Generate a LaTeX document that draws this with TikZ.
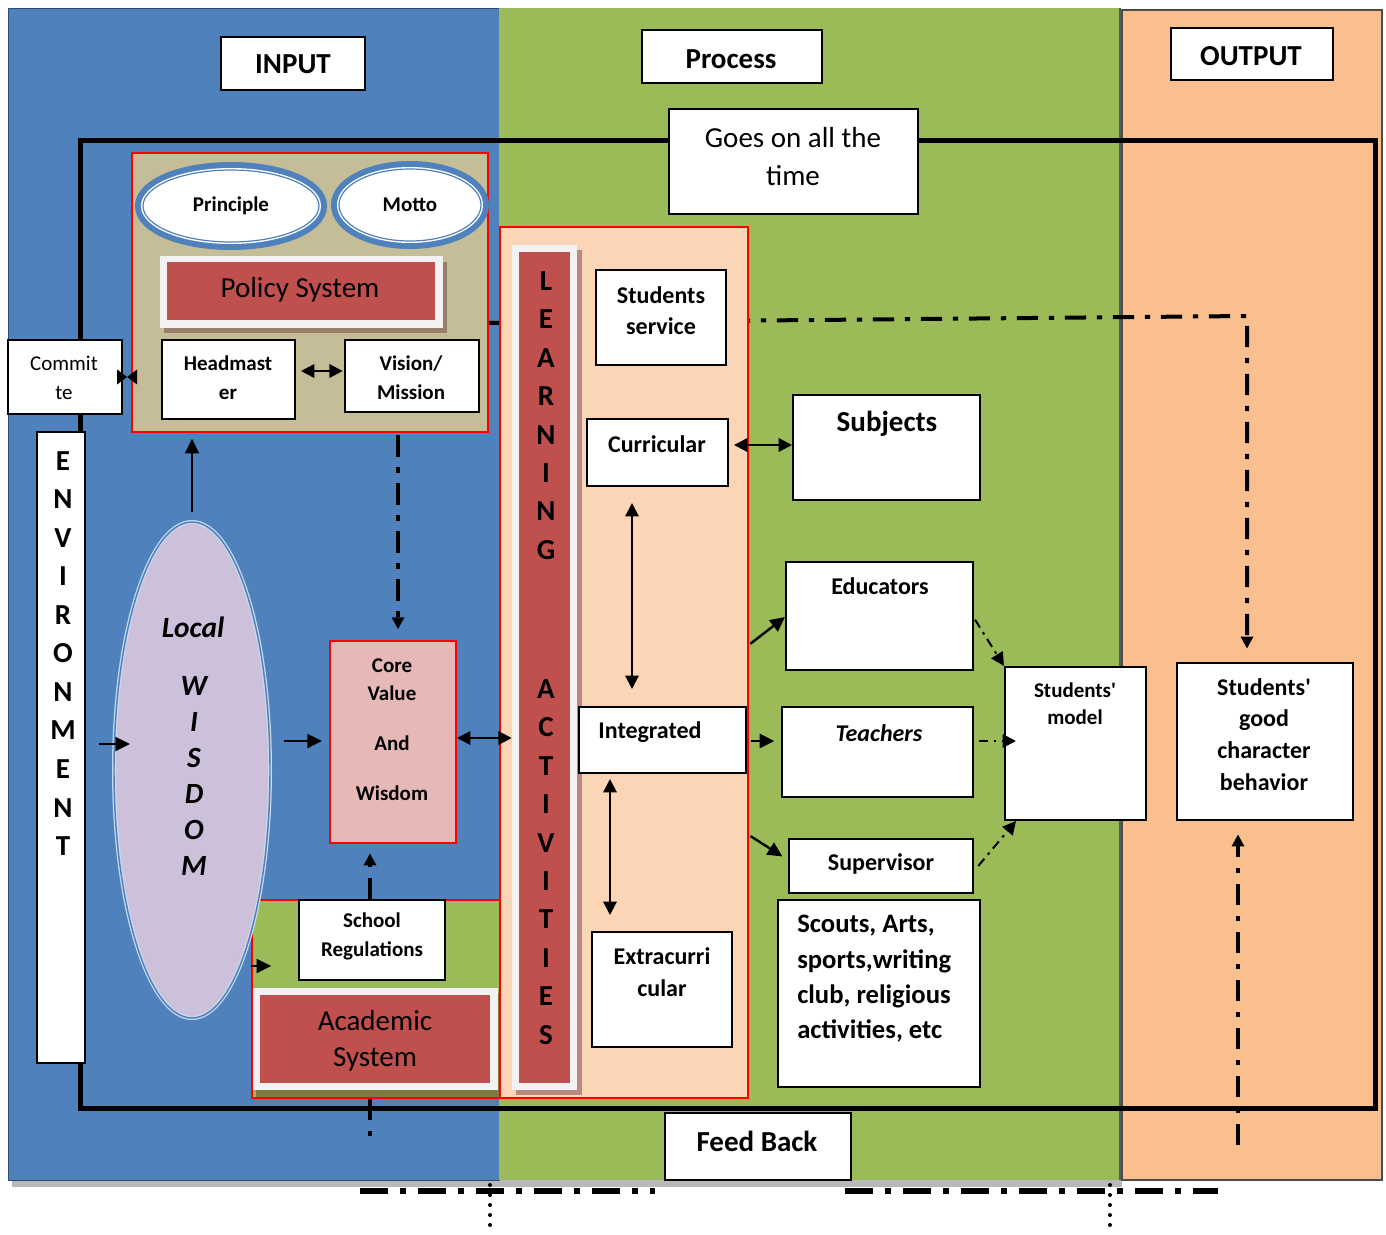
\documentclass[tikz,border=0pt]{standalone}
\usepackage{fontspec}
\setmainfont{Carlito}
\usetikzlibrary{arrows.meta,shapes.geometric,fit,calc}
\newcommand\pxu{0.75pt}
\definecolor{blueP}{HTML}{4F81BD}
\definecolor{greenP}{HTML}{9BBB59}
\definecolor{orangeP}{HTML}{F9BF8F}
\definecolor{tanP}{HTML}{C4BD97}
\definecolor{redP}{HTML}{C0504D}
\definecolor{frameP}{HTML}{F2F2F2}
\definecolor{peachP}{HTML}{FBD5B5}
\definecolor{coreP}{HTML}{E6B9B8}
\definecolor{lavP}{HTML}{CCC0DA}
\definecolor{pshadow}{HTML}{9A7E6C}
\definecolor{lshadow}{HTML}{B98B80}
\definecolor{ashadow}{HTML}{7F7A40}
\tikzset{
  box/.style={draw=black, line width=1.5pt, fill=white, inner sep=0pt},
  tB/.style 2 args={font=\fontsize{#1}{#2}\selectfont\bfseries, align=center, inner sep=0pt},
  tR/.style 2 args={font=\fontsize{#1}{#2}\selectfont, align=center, inner sep=0pt},
  tBI/.style 2 args={font=\fontsize{#1}{#2}\selectfont\bfseries\itshape, align=center, inner sep=0pt},
  arr/.style={line width=1.8pt, -{Triangle[length=11pt,width=10.5pt]}},
  darr/.style={line width=1.8pt, {Triangle[length=10pt,width=10pt]}-{Triangle[length=10pt,width=10pt]}},
  ddash/.style={line width=3pt, dash pattern=on 16pt off 8pt on 4pt off 8pt},
  ddarr/.style={ddash, -{Triangle[length=9pt,width=9pt]}},
  sdarr/.style={line width=1.5pt, dash pattern=on 7pt off 4pt on 2pt off 4pt, -{Triangle[length=10pt,width=10pt]}},
  bdash/.style={line width=4.5pt, dash pattern=on 21pt off 9pt on 4.5pt off 9pt},
  dotv/.style={line width=3pt, line cap=round, dash pattern=on 0pt off 7.5pt},
}
\begin{document}
\begin{tikzpicture}[x=0.75pt,y=-0.75pt]
\useasboundingbox (0,0) rectangle (1386,1235);

% ---------- panels ----------
\fill[gray!55] (12,1180) rectangle (1122,1187);
\filldraw[fill=blueP, draw=blueP!60!black, line width=0.6pt] (8,8) rectangle (499,1180);
\fill[greenP] (499,8) rectangle (1120,1180);
\draw[gray!70!black, line width=0.8pt] (1120,8) -- (1120,1180);
\filldraw[fill=orangeP, draw=black!70, line width=0.8pt] (1122,10) rectangle (1382,1180);

% ---------- big frame ----------
\draw[line width=3.75pt] (80,140) rectangle (1375,1108);

% ---------- bottom feedback lines ----------
\coordinate (b1) at (360,1191);
\coordinate (b2) at (655,1191);
\coordinate (b3) at (845,1191);
\coordinate (b4) at (1218,1191);
\draw[bdash] (b1) -- (b2);
\draw[bdash] (b3) -- (b4);
\coordinate (v1) at (490,1185);
\coordinate (v2) at (1110,1185);
\draw[dotv] (v1) -- ++(0,50);
\draw[dotv] (v2) -- ++(0,50);

% ---------- output box ----------
\node[box, fit={(1177,663)(1353,820)}] (gcb) {};
\node[tB={18}{23.8}] (gcbT) at (1264,734.5) {Students\textquotesingle\\good\\character\\behavior};

% ---------- policy area ----------
\node[fit={(132,153)(488,432)}, inner sep=0pt, fill=tanP, draw=red, line width=1.2pt] (pol) {};
\node[ellipse, minimum width=176*\pxu, minimum height=72*\pxu, inner sep=0pt, fill=white,
      draw=blueP, line width=0.9pt, preaction={draw=blueP, line width=12pt},
      preaction={draw=white, line width=3pt}, tB={15.75}{20}] (pr) at (231,206) {Principle};
\node[ellipse, minimum width=142*\pxu, minimum height=72*\pxu, inner sep=0pt, fill=white,
      draw=blueP, line width=0.9pt, preaction={draw=blueP, line width=12pt},
      preaction={draw=white, line width=3pt}, tB={15.75}{20}] (mo) at (410,205) {Motto};
\fill[pshadow] (164,262) rectangle (447,333);
\node[fit={(160,256)(443,328)}, inner sep=0pt, fill=frameP] (psf) {};
\node[fit={(167,262)(435,320)}, inner sep=0pt, fill=redP] (ps) {};
\node[tR={21.75}{26}] (psT) at (300,290) {Policy System};
\node[box, fit={(162,340)(295,419)}] (hm) {};
\node[tB={15.75}{21.75}] (hmT) at (228,377.5) {Headmast\\er};
\node[box, fit={(345,340)(479,412)}] (vm) {};
\node[tB={15.75}{21.75}] (vmT) at (411,377.5) {Vision/\\Mission};
\node[box, fit={(8,340)(122,414)}] (com) {};
\node[tR={15.75}{21.75}] (comT) at (64,377.5) {Commit\\te};

% ---------- dash-dot line to output ----------
\coordinate (ddc) at (1247,316);
\draw[ddarr, shorten >=10pt] (pol.east |- 0,323) -- (ddc) -- (ddc |- gcb.north);

% ---------- academic area ----------
\node[fit={(252,900)(500,1098)}, inner sep=0pt, fill=greenP, draw=red, line width=1.2pt] (ag) {};
\node[box, fit={(299,900)(445,980)}] (sr) {};
\node[tB={15.75}{21.75}] (srT) at (372,936.5) {School\\Regulations};
\fill[ashadow] (256,993) rectangle (500,1097);
\node[fit={(253,988)(498,1090)}, inner sep=0pt, fill=frameP] (acf) {};
\node[fit={(260,995)(490,1083)}, inner sep=0pt, fill=redP] (acs) {};
\node[tR={21.75}{27}] (acsT) at (375,1041) {Academic\\System};

% ---------- environment & local wisdom ----------
\node[box, fit={(37,432)(85,1063)}] (env) {};
\node[tB={21.75}{28.9}] (envT) at (63,653.5) {E\\N\\V\\I\\R\\O\\N\\M\\E\\N\\T};
\node[ellipse, minimum width=156*\pxu, minimum height=496*\pxu, inner sep=0pt, fill=lavP,
      draw=blueP!30!white, line width=3pt, postaction={draw=blueP, line width=1.1pt}] (lw) at (192,770) {};
\node[tBI={22}{27}] (lwT1) at (193,627) {Local};
\node[tBI={22}{27}] (lwT2) at (194,776) {W\\I\\S\\D\\O\\M};

% ---------- core value ----------
\node[fit={(330,641)(456,843)}, inner sep=0pt, fill=coreP, draw=red, line width=1.5pt] (core) {};
\node[tB={15.75}{21}] (coreT) at (392,730) {Core\\Value\\[16.5pt]And\\[16.5pt]Wisdom};

% ---------- learning activities ----------
\node[fit={(500,227)(748,1098)}, inner sep=0pt, fill=peachP, draw=red, line width=1.2pt] (lc) {};
\fill[lshadow] (516,250) rectangle (582,1095);
\node[fit={(512,245)(577,1090)}, inner sep=0pt, fill=frameP] (lf) {};
\node[fit={(519,252)(570,1083)}, inner sep=0pt, fill=redP] (lr) {};
\node[tB={21.75}{28.8}] (lrT1) at (546,415.5) {L\\E\\A\\R\\N\\I\\N\\G};
\node[tB={21.75}{28.8}] (lrT2) at (546,862) {A\\C\\T\\I\\V\\I\\T\\I\\E\\S};

\node[box, fit={(596,270)(726,365)}] (ss) {};
\node[tB={18}{23}] (ssT) at (661,310.5) {Students\\service};
\node[box, fit={(587,419)(728,486)}] (cur) {};
\node[tB={18}{24}] (curT) at (657,444) {Curricular};
\node[box, fit={(579,707)(746,773)}] (int) {};
\node[tB={18}{24}] (intT) at (650,732) {Integrated};
\node[box, fit={(592,932)(732,1047)}] (ext) {};
\node[tB={18}{24}] (extT) at (662,972) {Extracurri\\cular};

% ---------- process boxes ----------
\node[box, fit={(793,395)(980,500)}] (sub) {};
\node[tB={21.75}{26}] (subT) at (887,424) {Subjects};
\node[box, fit={(786,562)(973,670)}] (edu) {};
\node[tB={18}{24}] (eduT) at (880,586) {Educators};
\node[box, fit={(782,707)(973,797)}] (tea) {};
\node[tBI={18}{24}] (teaT) at (879,733) {Teachers};
\node[box, fit={(789,839)(973,893)}] (sup) {};
\node[tB={18}{24}] (supT) at (881,864) {Supervisor};
\node[box, fit={(778,900)(980,1087)}] (sc) {};
\node[tB={20}{26.5}, align=left, anchor=west] (scT) at (797,979) {Scouts, Arts,\\sports,writing\\club, religious\\activities, etc};
\node[box, fit={(1005,667)(1146,820)}] (sm) {};
\node[tB={15.75}{20}] (smT) at (1075,703.5) {Students\textquotesingle\\model};

% ---------- titles ----------
\node[box, fit={(221,37)(365,90)}] (inp) {};
\node[tB={21.75}{26}] (inpT) at (293,64) {INPUT};
\node[box, fit={(642,30)(822,83)}] (pro) {};
\node[tB={21.75}{26}] (proT) at (731,59) {Process};
\node[box, fit={(1171,28)(1333,80)}] (out) {};
\node[tB={21.75}{26}] (outT) at (1251,56) {OUTPUT};
\node[box, fit={(669,109)(918,214)}] (gat) {};
\node[tR={21.75}{29}] (gatT) at (793,156.5) {Goes on all the\\time};
\node[box, fit={(665,1113)(851,1180)}] (fbk) {};
\node[tB={21.75}{26}] (fbkT) at (757,1141) {Feed Back};

% ---------- connectors ----------
\coordinate (cm) at ($(com.east)!0.5!(com.east -| pol.west)$);
\draw[line width=1pt, -{Triangle[length=7.5pt,width=11pt]}] ([xshift=-2pt]com.east) -- (cm);
\draw[line width=1pt, -{Triangle[length=7.5pt,width=11pt]}] ([xshift=2pt]com.east -| pol.west) -- (cm);
\draw[line width=2pt, shorten <=3.75pt, shorten >=1pt, {Triangle[length=10pt,width=10pt]}-{Triangle[length=10pt,width=10pt]}] (hm.east |- 0,371) -- (vm.west |- 0,371);
\draw[arr, shorten >=4.5pt] (lw.north |- 0,512) -- (lw.north |- pol.south);
\draw[arr, shorten <=9.75pt, shorten >=-13.5pt] (env.east |- 0,744) -- (lw.west |- 0,744);
\draw[arr, shorten <=9pt, shorten >=5.25pt] (lw.east |- 0,741) -- (core.west |- 0,741);
\draw[darr] (core.east |- 0,738) -- (lf.west |- 0,738);
\draw[ddarr, shorten <=2pt, shorten >=8pt] (pol.south -| 398,0) -- (core.north -| 398,0);
\draw[ddarr, shorten >=7pt] (sr.north -| 370,0) -- (core.south -| 370,0);
\draw[arr] (ag.west |- 0,966) -- ++(20,0);
\draw[ddash] (ag.south -| 370,0) -- ++(0,47);
\draw[darr, shorten <=3.75pt] (cur.east |- 0,445) -- (sub.west |- 0,445);
\draw[darr, line width=1.5pt, shorten <=12pt, shorten >=12.75pt] (cur.south -| 632,0) -- (int.north -| 632,0);
\draw[darr, line width=1.5pt, shorten <=3.75pt, shorten >=12pt] (int.south -| 610,0) -- (ext.north -| 610,0);
\draw[arr, shorten <=1.5pt] (lc.east |- 0,645) -- (edu.west |- 0,617);
\draw[arr, shorten <=1.5pt, shorten >=5pt] (lc.east |- 0,741) -- (tea.west |- 0,741);
\draw[arr, shorten <=1.5pt, shorten >=5pt] (lc.east |- 0,835) -- (sup.west |- 0,860);
\draw[sdarr, shorten <=1.5pt] (edu.east |- 0,618) -- (sm.north west);
\draw[sdarr, shorten <=3.75pt, shorten >=-9pt] (tea.east |- 0,741) -- (sm.west |- 0,741);
\draw[sdarr, shorten <=5pt] (sup.east |- 0,871) -- ($(sm.south west)+(12,0)$);
\coordinate (fb2) at (1238,1145);
\draw[ddarr, shorten >=10pt] (fb2) -- (fb2 |- gcb.south);
\end{tikzpicture}
\end{document}
